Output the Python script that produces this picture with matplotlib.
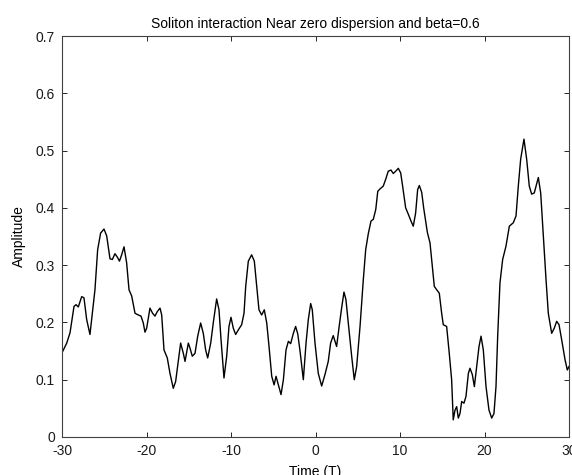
import numpy as np
import matplotlib
matplotlib.use("Agg")
import matplotlib.pyplot as plt

# values
time = [-30.0, -29.44, -29.05, -28.58, -28.34, -28.07, -27.67, -27.4, -27.08, -26.69,
        -26.41, -26.1, -25.78, -25.43, -25.03, -24.71, -24.32, -24.04, -23.73, -23.41,
        -23.2, -22.94, -22.66, -22.35, -22.07, -21.75, -21.36, -20.97, -20.65, -20.38,
        -20.18, -19.98, -19.59, -19.28, -19.0, -18.72, -18.4, -18.2, -17.93, -17.54,
        -17.22, -16.83, -16.55, -16.24, -15.96, -15.64, -15.44, -15.05, -14.85, -14.58,
        -14.26, -13.94, -13.59, -13.28, -13.0, -12.76, -12.4, -12.1, -11.7, -11.42,
        -11.18, -10.83, -10.51, -10.24, -10.0, -9.73, -9.45, -9.13, -8.74, -8.46,
        -8.26, -7.95, -7.56, -7.24, -6.96, -6.69, -6.37, -6.06, -5.77, -5.5,
        -5.18, -4.9, -4.67, -4.39, -4.08, -3.8, -3.49, -3.21, -2.94, -2.62,
        -2.35, -2.1, -1.83, -1.44, -1.12, -0.85, -0.57, -0.38, -0.06, 0.33,
        0.73, 1.12, 1.51, 1.79, 2.1, 2.5, 2.8, 3.09, 3.37, 3.6,
        3.88, 4.28, 4.59, 4.87, 5.27, 5.66, 5.94, 6.25, 6.57, 6.84,
        7.13, 7.37, 7.63, 8.02, 8.31, 8.61, 8.93, 9.2, 9.49, 9.8,
        10.08, 10.31, 10.67, 10.98, 11.3, 11.57, 11.85, 12.09, 12.29, 12.57,
        12.8, 13.24, 13.55, 13.87, 14.06, 14.34, 14.65, 14.93, 15.12, 15.52,
        15.83, 16.11, 16.3, 16.51, 16.71, 16.9, 17.1, 17.3, 17.57, 17.81,
        18.09, 18.28, 18.56, 18.8, 19.07, 19.35, 19.59, 19.86, 20.18, 20.53,
        20.85, 21.12, 21.36, 21.56, 21.83, 22.15, 22.54, 22.94, 23.41, 23.73,
        24.0, 24.28, 24.67, 24.99, 25.3, 25.58, 25.89, 26.37, 26.65, 26.96,
        27.28, 27.55, 27.95, 28.26, 28.54, 28.82, 29.13, 29.53, 29.8, 30.0]
amplitude = [0.147, 0.164, 0.182, 0.228, 0.231, 0.227, 0.245, 0.243, 0.205, 0.179,
             0.216, 0.257, 0.327, 0.356, 0.363, 0.351, 0.311, 0.310, 0.320, 0.313,
             0.307, 0.318, 0.332, 0.304, 0.257, 0.246, 0.216, 0.213, 0.211, 0.199,
             0.183, 0.190, 0.225, 0.216, 0.211, 0.219, 0.225, 0.213, 0.152, 0.138,
             0.111, 0.085, 0.097, 0.133, 0.164, 0.146, 0.132, 0.164, 0.155, 0.141,
             0.146, 0.176, 0.199, 0.181, 0.152, 0.138, 0.164, 0.199, 0.241, 0.222,
             0.170, 0.103, 0.141, 0.193, 0.209, 0.190, 0.179, 0.187, 0.196, 0.216,
             0.263, 0.307, 0.318, 0.307, 0.263, 0.222, 0.213, 0.222, 0.199, 0.158,
             0.106, 0.091, 0.106, 0.091, 0.074, 0.100, 0.152, 0.167, 0.163, 0.181,
             0.193, 0.180, 0.150, 0.100, 0.164, 0.205, 0.233, 0.222, 0.164, 0.111,
             0.089, 0.109, 0.132, 0.164, 0.177, 0.158, 0.193, 0.225, 0.253, 0.240,
             0.199, 0.141, 0.100, 0.123, 0.193, 0.275, 0.327, 0.355, 0.377, 0.380,
             0.397, 0.429, 0.433, 0.438, 0.450, 0.464, 0.466, 0.460, 0.464, 0.469,
             0.461, 0.438, 0.400, 0.389, 0.377, 0.368, 0.391, 0.432, 0.439, 0.427,
             0.400, 0.357, 0.339, 0.292, 0.263, 0.257, 0.251, 0.216, 0.196, 0.193,
             0.146, 0.100, 0.030, 0.047, 0.053, 0.033, 0.041, 0.062, 0.059, 0.071,
             0.111, 0.120, 0.109, 0.088, 0.123, 0.158, 0.176, 0.152, 0.088, 0.047,
             0.033, 0.041, 0.088, 0.176, 0.269, 0.310, 0.333, 0.368, 0.374, 0.386,
             0.438, 0.485, 0.520, 0.485, 0.438, 0.424, 0.426, 0.453, 0.426, 0.351,
             0.275, 0.216, 0.181, 0.190, 0.202, 0.196, 0.170, 0.135, 0.117, 0.123]
xticks = [-30, -20, -10, 0, 10, 20, 30]
yticks = [0, 0.1, 0.2, 0.3, 0.4, 0.5, 0.6, 0.7]
ytick_labels = ['0', '0.1', '0.2', '0.3', '0.4', '0.5', '0.6', '0.7']

plt.rcParams['font.family'] = ['Liberation Sans', 'DejaVu Sans']
plt.rcParams['font.size'] = 10
plt.rcParams['axes.unicode_minus'] = False

fig = plt.figure(figsize=(5.72, 4.75), dpi=100)
ax = fig.add_axes([62/572, 38/475, 507/572, 401/475])

ax.plot(time, amplitude, color='black', linewidth=1.0)

ax.set_xlim(-30, 30)
ax.set_ylim(0, 0.7)
ax.set_xticks(xticks)
ax.set_yticks(yticks)
ax.set_yticklabels(ytick_labels)
ax.tick_params(direction='in', length=3.6, width=0.7, top=True, right=True,
               colors='#262626', labelcolor='#1a1a1a', pad=5)
for s in ax.spines.values():
    s.set_color('#404040')
    s.set_linewidth(0.8)

ax.set_title('Soliton interaction Near zero dispersion and beta=0.6', fontsize=10, pad=6)
ax.set_xlabel('Time (T)', labelpad=5)
ax.set_ylabel('Amplitude', labelpad=7)

fig.savefig('out.png', dpi=100)
